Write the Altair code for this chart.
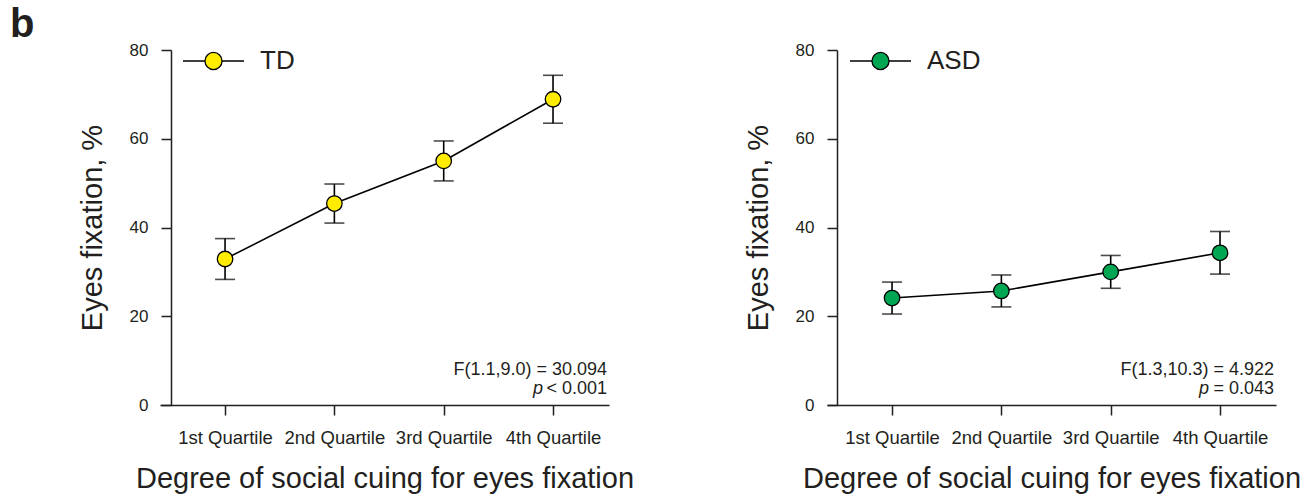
import json
import altair as alt
import pandas as pd

quartiles = ["1st Quartile", "2nd Quartile", "3rd Quartile", "4th Quartile"]
quartile_idx = [1, 2, 3, 4]

td_mean = [32.9, 45.4, 55.0, 68.9]
td_err = [4.6, 4.4, 4.5, 5.4]

asd_mean = [24.1, 25.7, 30.0, 34.3]
asd_err = [3.6, 3.6, 3.7, 4.8]

y_ticks = [0, 20, 40, 60, 80]

FONT = "Liberation Sans"
INK = "#231f20"
TD_COLOR = "#ffec00"
ASD_COLOR = "#00a651"

label_expr = json.dumps(quartiles) + "[datum.value - 1]"
# legend symbol: line - circle - line, in the [-1,1] unit box
LEG_PATH = "M-1,0H-0.29M0.29,0H1M0.28,0A0.28,0.28 0 1,1 -0.28,0A0.28,0.28 0 1,1 0.28,0Z"

W, H = 449, 355


def panel(name, means, errs, color, stat_line, p_rest, y_off, p_x, first=False):
    df = pd.DataFrame({
        "q": quartile_idx,
        "label": quartiles,
        "mean": means,
        "lo": [m - e for m, e in zip(means, errs)],
        "hi": [m + e for m, e in zip(means, errs)],
        "group": [name] * 4,
    })
    one = alt.Data(values=[{"k": 0}])
    x = alt.X("q:Q",
              scale=alt.Scale(domain=[0.405, 4.512], nice=False, zero=False),
              axis=alt.Axis(values=quartile_idx, labelExpr=label_expr,
                            title="Degree of social cuing for eyes fixation",
                            labelPadding=13, titlePadding=18))
    yaxis = alt.Axis(values=y_ticks, title="Eyes fixation, %", offset=y_off,
                     labelPadding=13, titlePadding=22)
    yscale = alt.Scale(domain=[0, 80], nice=False)

    base = alt.Chart(df)
    line = base.mark_line(color="black", strokeWidth=1.6).encode(
        x=x, y=alt.Y("mean:Q", scale=yscale, axis=yaxis))
    rule = base.mark_rule(color="black", strokeWidth=1.6).encode(
        x=x, y=alt.Y("lo:Q", scale=yscale, axis=yaxis), y2="hi:Q")
    cap_lo = base.mark_tick(orient="horizontal", size=20, thickness=1.6, color="black").encode(
        x=x, y=alt.Y("lo:Q", scale=yscale, axis=yaxis))
    cap_hi = base.mark_tick(orient="horizontal", size=20, thickness=1.6, color="black").encode(
        x=x, y=alt.Y("hi:Q", scale=yscale, axis=yaxis))
    pts = base.mark_point(filled=True, size=240, opacity=1, stroke="black",
                          strokeWidth=1.3, shape="circle").encode(
        x=x, y=alt.Y("mean:Q", scale=yscale, axis=yaxis),
        fill=alt.Fill("group:N", scale=alt.Scale(domain=[name], range=[color]),
                      legend=alt.Legend(title=None, orient="none", legendX=22, legendY=-20.5,
                                        symbolType=LEG_PATH, symbolSize=3721,
                                        symbolStrokeColor="black", symbolStrokeWidth=1.3,
                                        symbolOpacity=1, labelFontSize=26, labelFont=FONT,
                                        labelColor=INK, labelOffset=15, padding=0)))
    ann = alt.Chart(one)
    stat = ann.mark_text(text=stat_line, align="right", baseline="alphabetic",
                         font=FONT, fontSize=18, color=INK).encode(
        x=alt.value(447), y=alt.value(325))
    prest = ann.mark_text(text=p_rest, align="right", baseline="alphabetic",
                          font=FONT, fontSize=18, color=INK).encode(
        x=alt.value(447), y=alt.value(344))
    pital = ann.mark_text(text="p", align="left", baseline="alphabetic",
                          font=FONT, fontSize=18, fontStyle="italic", color=INK).encode(
        x=alt.value(p_x), y=alt.value(344))
    layers = [line, rule, cap_lo, cap_hi, pts, stat, prest, pital]
    if first:
        btxt = ann.mark_text(text="b", align="left", baseline="alphabetic",
                             font=FONT, fontSize=40, fontWeight="bold", color=INK).encode(
            x=alt.value(-150), y=alt.value(-13))
        layers.append(btxt)
    return alt.layer(*layers).properties(width=W, height=H)


left = panel("TD", td_mean, td_err, TD_COLOR, "F(1.1,9.0) = 30.094", "< 0.001", -11, 373, first=True)
right = panel("ASD", asd_mean, asd_err, ASD_COLOR, "F(1.3,10.3) = 4.922", "= 0.043", -10, 372)

chart = alt.hconcat(left, right, spacing=110).resolve_scale(
    fill="independent").resolve_legend(fill="independent").properties(
    padding={"left": 10, "top": 5, "right": 5, "bottom": 5}
).configure_view(stroke=None).configure_axis(
    grid=False, domainColor=INK, domainWidth=1.5, tickColor=INK, tickWidth=1.5,
    tickSize=10, labelFont=FONT, labelFontSize=17, labelColor=INK,
    titleFont=FONT, titleFontSize=29, titleFontWeight="normal", titleColor=INK,
).configure_axisX(labelFontSize=18.5)

chart.save("out.html", embed_options={"renderer": "svg", "actions": False})
